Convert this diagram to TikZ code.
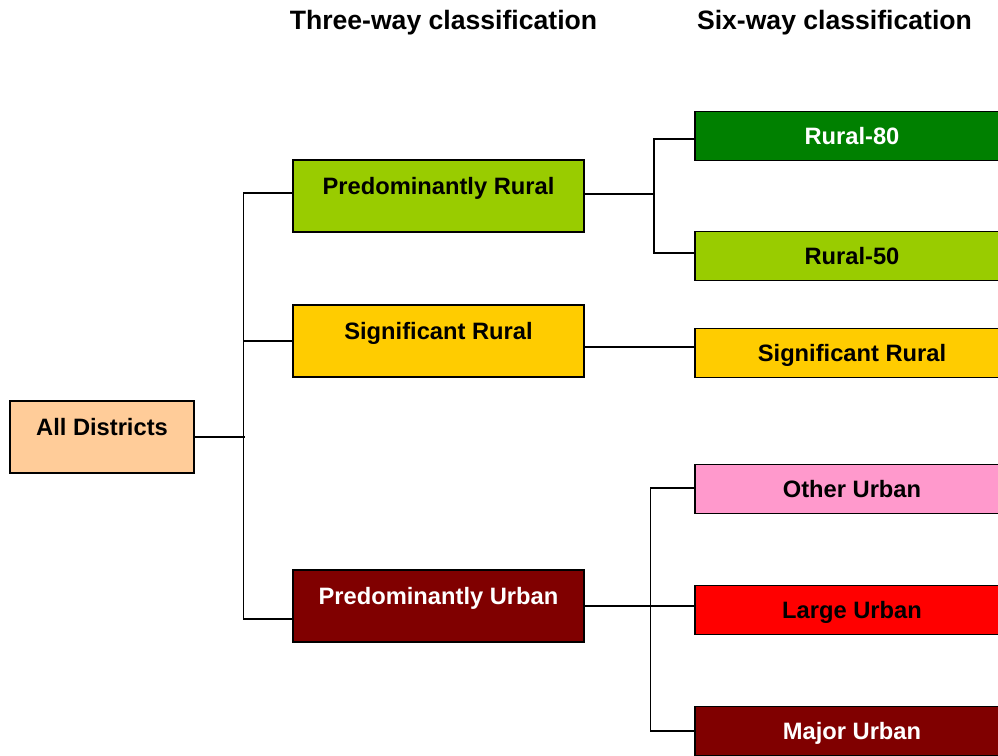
\documentclass[tikz,border=0pt]{standalone}
\usepackage{fontspec}
\setmainfont{Liberation Sans}
\usepackage{tikz}

\definecolor{peach}{HTML}{FFCC99}
\definecolor{lime}{HTML}{99CC00}
\definecolor{amber}{HTML}{FFCC00}
\definecolor{maroon}{HTML}{800000}
\definecolor{darkgreen}{HTML}{008000}
\definecolor{pinkish}{HTML}{FF99CC}
\definecolor{redish}{HTML}{FF0000}

\tikzset{
	box/.style={draw=black, line width=1.5pt, rectangle, inner sep=0pt,
		font=\fontsize{23.7}{28}\selectfont\bfseries},
	tallbox/.style={box, minimum height=72pt, text height=17pt, text depth=20pt},
	widebox/.style={box, minimum width=314pt, minimum height=49pt, text height=17pt, text depth=0pt},
	hdr/.style={anchor=base, inner sep=0pt, font=\fontsize{26.6}{32}\selectfont\bfseries},
	link/.style={line width=1.5pt}
}

\begin{document}
\begin{tikzpicture}[x=1pt, y=-1pt]
	% page size, the right column runs off the edge
	\useasboundingbox (0,0) rectangle (998,755);
	\clip (0,0) rectangle (998,755);
	
	% column titles
	\node[hdr] (title3) at (443.5,29) {Three-way classification};
	\node[hdr] (title6) at (834.5,29) {Six-way classification};
	
	% root box
	\node[tallbox, fill=peach, minimum width=184pt] (alld) at (102,437) {All Districts};
	
	% three-way boxes
	\node[tallbox, fill=lime, minimum width=291pt] (prural) at (438.5,196) {Predominantly Rural};
	\node[tallbox, fill=amber, minimum width=291pt] (srural) at (438.5,341) {Significant Rural};
	\node[tallbox, fill=maroon, minimum width=291pt, text=white] (purban) at (438.5,606) {Predominantly Urban};
	
	% six-way boxes
	\node[widebox, fill=darkgreen, text=white] (r80) at (852,136) {Rural-80};
	\node[widebox, fill=lime] (r50) at (852,256) {Rural-50};
	\node[widebox, fill=amber] (srural6) at (852,353) {Significant Rural};
	\node[widebox, fill=pinkish] (ourban) at (852,489) {Other Urban};
	\node[widebox, fill=redish] (lurban) at (852,610) {Large Urban};
	\node[widebox, fill=maroon, text=white] (murban) at (852,731) {Major Urban};
	
	% left tree
	\draw[link] (alld.east) -- ++(50,0);
	\draw[link] ([yshift=3pt]prural.west) -- ++(-49,0) |- ([yshift=-13pt]purban.west);
	\draw[link] (srural.west) -- ++(-49,0);
	
	% rural split
	\draw[link] ([yshift=2pt]prural.east) -- ++(69,0) coordinate (rsplit);
	\draw[link] ([yshift=-3pt]r80.west) -| (rsplit) |- ([yshift=3pt]r50.west);
	\draw[link] ([yshift=-6pt]srural.east) -- ([yshift=-6pt]srural.east -| srural6.west);
	
	% urban split
	\draw[link] (purban.east) -- (purban.east -| lurban.west);
	\draw[link] ([yshift=1pt]ourban.west) -- ++(-44,0) |- (murban.west);
\end{tikzpicture}
\end{document}
